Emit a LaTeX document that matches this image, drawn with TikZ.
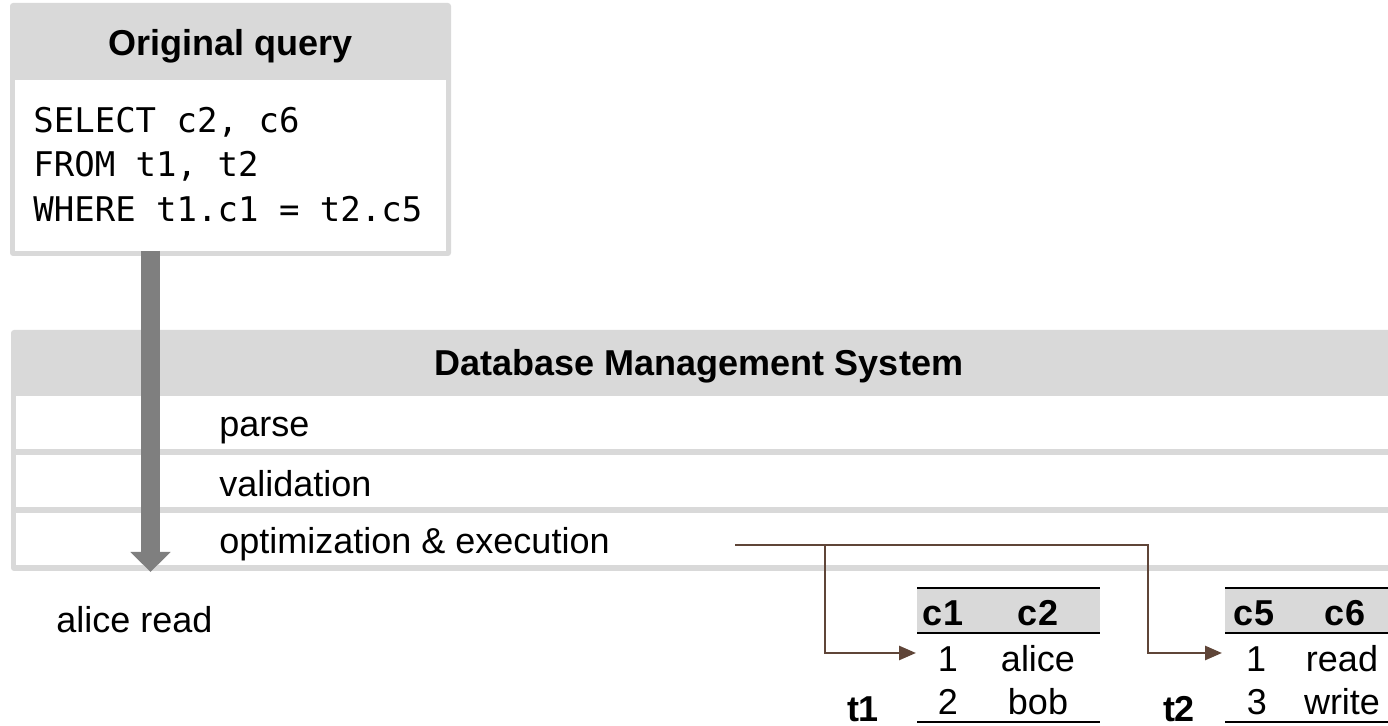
\documentclass[tikz,border=0pt]{standalone}
\usepackage{fontspec}
\setmainfont{Liberation Sans}
\newfontfamily\codefont{DejaVu Sans Mono}
\usetikzlibrary{arrows.meta}
\definecolor{panel}{HTML}{D9D9D9}
\definecolor{flow}{HTML}{7F7F7F}
\definecolor{linkc}{HTML}{5F4538}

\begin{document}
\begin{tikzpicture}[x=0.5pt,y=-0.5pt,
  lbl/.style={inner sep=0pt, font=\fontsize{18pt}{21pt}\selectfont},
  hdr/.style={inner sep=0pt, font=\fontsize{18pt}{21pt}\selectfont\bfseries},
  code/.style={inner sep=0pt, font=\codefont\fontsize{17pt}{20pt}\selectfont},
  panelbox/.style={fill=panel, rounded corners=1.5pt},
  rowbox/.style={fill=white},
  flowarrow/.style={draw=flow, line width=9.5pt,
    -{Triangle[length=10pt,width=19.5pt]}},
  linkarrow/.style={draw=linkc, line width=1.35pt,
    -{Triangle[length=8.5pt,width=7pt]}},
  tablerule/.style={line width=1.4pt}]
\useasboundingbox (0,0) rectangle (1388,726);
\begin{scope}
\clip (0,0) rectangle (1388,726);

% query panel
\fill[panelbox] (10,3) rectangle (451,256);
\fill[rowbox] (15,80) rectangle (446,251);
\node[hdr, anchor=base] (qtitle) at (230.5,56) {Original query};
\node[code, anchor=base west] (qsel) at (33,133) {SELECT c2, c6};
\node[code, anchor=base west] (qfrom) at (33,177) {FROM t1, t2};
\node[code, anchor=base west] (qwhere) at (33,222) {WHERE t1.c1 = t2.c5};

% DBMS panel with its three stages
\fill[panelbox] (11,330) rectangle (1400,571);
\fill[rowbox] (16,396) rectangle (1400,449);
\fill[rowbox] (16,455) rectangle (1400,507);
\fill[rowbox] (16,513) rectangle (1400,565);
\node[hdr, anchor=base] (dbms) at (699,376) {Database Management System};
\node[lbl, anchor=base west] (parse) at (219,437) {parse};
\node[lbl, anchor=base west] (valid) at (219,497) {validation};
\node[lbl, anchor=base west] (exe) at (219,554) {optimization \& execution};

% query flow through the system
\coordinate (qout) at (150.5,251);
\coordinate (qres) at (150.5,572);
\draw[flowarrow] (qout) -- (qres);
\node[lbl, anchor=base west] (result) at (56,633) {alice read};

% table t1
\fill[panel] (917,588) rectangle (1100,633);
\draw[tablerule] (917,588) -- (1100,588);
\draw[tablerule] (917,633) -- (1100,633);
\draw[tablerule] (917,722) -- (1100,722);
\node[hdr, anchor=base] (ta1) at (943,626) {c1};
\node[hdr, anchor=base] (ta2) at (1038,626) {c2};
\node[lbl, anchor=base] (ta11) at (948,672) {1};
\node[lbl, anchor=base] (ta12) at (1038,672) {alice};
\node[lbl, anchor=base] (ta21) at (948,715) {2};
\node[lbl, anchor=base] (ta22) at (1038,715) {bob};
\node[hdr, anchor=base] (tname1) at (863,722) {t1};

% table t2
\fill[panel] (1225,588) rectangle (1400,633);
\draw[tablerule] (1225,588) -- (1400,588);
\draw[tablerule] (1225,633) -- (1400,633);
\draw[tablerule] (1225,722) -- (1400,722);
\node[hdr, anchor=base] (tb1) at (1254,626) {c5};
\node[hdr, anchor=base] (tb2) at (1345,626) {c6};
\node[lbl, anchor=base] (tb11) at (1256,672) {1};
\node[lbl, anchor=base] (tb12) at (1342,672) {read};
\node[lbl, anchor=base] (tb21) at (1257,715) {3};
\node[lbl, anchor=base] (tb22) at (1342,715) {write};
\node[hdr, anchor=base] (tname2) at (1179,722) {t2};

% execution reads both tables
\coordinate (exec) at (735,545);
\coordinate (b1) at (825,653);
\coordinate (b2) at (1148,653);
\coordinate (t1in) at (916,653);
\coordinate (t2in) at (1222,653);
\draw[linkarrow] (exec) -| (b1) -- (t1in);
\draw[linkarrow] (exec) -| (b2) -- (t2in);
\end{scope}
\end{tikzpicture}
\end{document}
